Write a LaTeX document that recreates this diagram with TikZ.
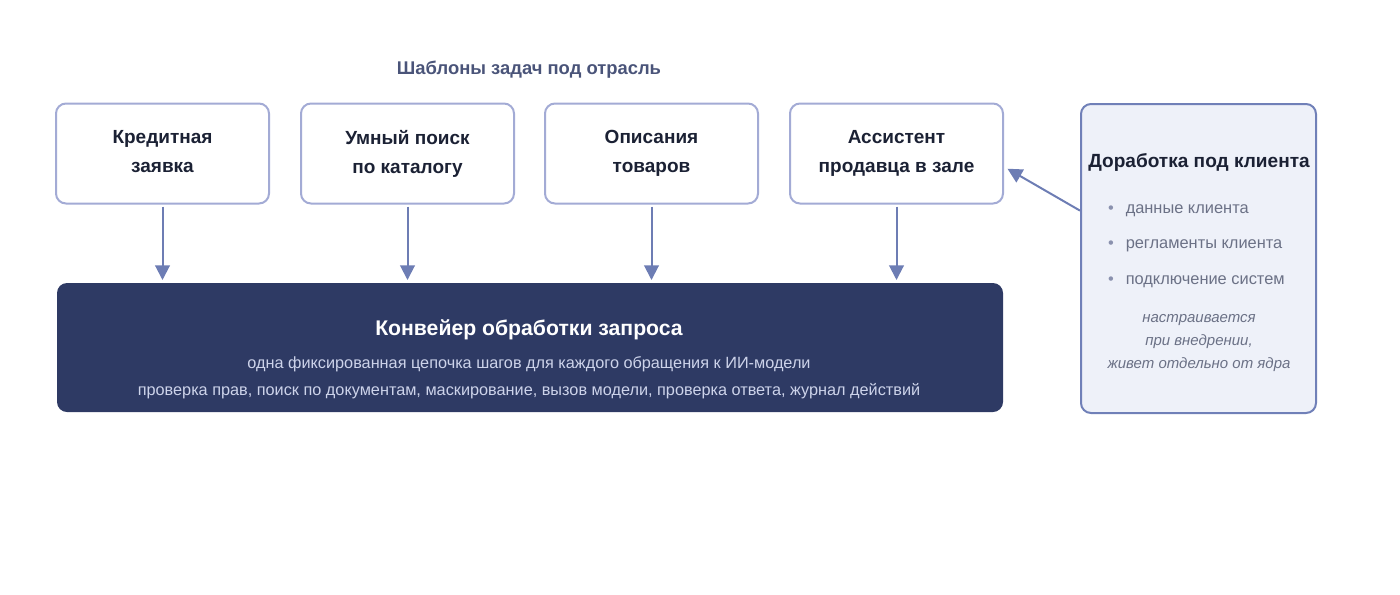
\documentclass[tikz,border=0pt]{standalone}
\usepackage{fontspec}
\setmainfont{Liberation Sans}
\usetikzlibrary{arrows.meta}

\definecolor{boxline}{HTML}{A3ABD5}
\definecolor{arrowc}{HTML}{6D7DB4}
\definecolor{pipefill}{HTML}{2E3A64}
\definecolor{pipesub}{HTML}{CDD3EA}
\definecolor{headc}{HTML}{4A5479}
\definecolor{textc}{HTML}{1B2134}
\definecolor{clientfill}{HTML}{EEF1F9}
\definecolor{clientline}{HTML}{7080B8}
\definecolor{greyc}{HTML}{6B7186}
\definecolor{dotc}{HTML}{8A91AE}

\begin{document}
\begin{tikzpicture}[->, >={Triangle[length=11pt,width=11pt]}, x=0.75pt, y=-0.75pt, line width=1.5pt]
				\tikzstyle{task}=[rectangle, rounded corners=7.5pt, draw=boxline, fill=white, minimum width=159.75pt, minimum height=75pt, align=center, text=textc, font=\fontsize{14.25}{21.9}\selectfont\bfseries, execute at begin node={\vphantom{Й}}, execute at end node={\vphantom{р}}]
				\tikzstyle{pipe}=[rectangle, rounded corners=7.5pt, fill=pipefill, minimum width=709.5pt, minimum height=96.75pt]
				\tikzstyle{client}=[rectangle, rounded corners=7.5pt, draw=clientline, fill=clientfill, minimum width=176.25pt, minimum height=231.75pt]
				\tikzstyle{flow}=[arrowc, shorten <=1.5pt, shorten >=1.5pt]
				\tikzstyle{item}=[anchor=base west, inner sep=0pt, text=greyc, font=\fontsize{12.3}{14}\selectfont]
				\tikzstyle{pipetext}=[anchor=base, text=pipesub, font=\fontsize{12.2}{15}\selectfont]

				\useasboundingbox (0,0) rectangle (1400,594);

				\node[anchor=base, text=headc, font=\fontsize{13.8}{16}\selectfont\bfseries] at (529,74) (H) {Шаблоны задач под отрасль};

				\node[task] at (162.5,153.5) (KR) {Кредитная\\заявка};
				\node[task] at (407.5,153.5) (US) {Умный поиск\\по каталогу};
				\node[task] at (651.5,153.5) (OT) {Описания\\товаров};
				\node[task] at (896.5,153.5) (AS) {Ассистент\\продавца в зале};

				\node[pipe] at (530,347.5) (KV) {};
				\node[anchor=base, text=white, font=\fontsize{15.9}{18}\selectfont\bfseries] at (529,335) (KVt) {Конвейер обработки запроса};
				\node[pipetext] at (529,368) (KVa) {одна фиксированная цепочка шагов для каждого обращения к ИИ-модели};
				\node[pipetext] at (529,395) (KVb) {проверка прав, поиск по документам, маскирование, вызов модели, проверка ответа, журнал действий};

				\node[client] at (1198.5,258.5) (DK) {};
				\node[anchor=base, text=textc, font=\fontsize{14.3}{17}\selectfont\bfseries] at (1199,167) (DKt) {Доработка под клиента};
				\node[item] at (1107,213) (D1) {{\color{dotc}•}\hspace{9pt}данные клиента};
				\node[item] at (1107,248) (D2) {{\color{dotc}•}\hspace{9pt}регламенты клиента};
				\node[item] at (1107,284) (D3) {{\color{dotc}•}\hspace{9pt}подключение систем};
				\node[align=center, text=greyc, font=\fontsize{11.25}{16.9}\selectfont\itshape] at (1199,343) (DKn) {настраивается\\при внедрении,\\живет отдельно от ядра};

				\path
				(KR) edge[flow] (KR |- KV.north)
				(US) edge[flow] (US |- KV.north)
				(OT) edge[flow] (OT |- KV.north)
				(AS) edge[flow] (AS |- KV.north)
				(DK.158) edge[flow, shorten <=0pt, shorten >=3pt] (AS.-7);
		  \end{tikzpicture}
\end{document}
